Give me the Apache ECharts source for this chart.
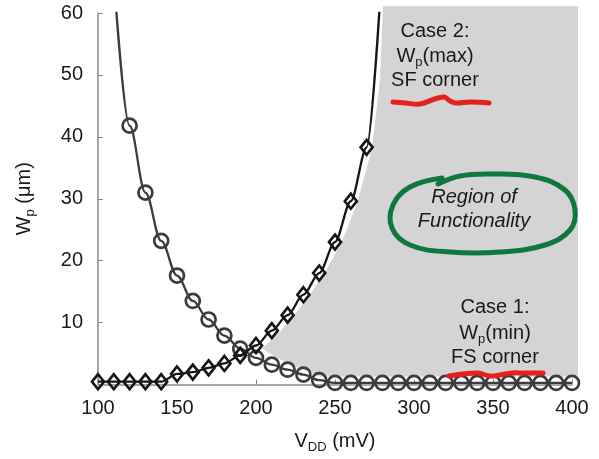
<!DOCTYPE html>
<html>
<head>
<meta charset="utf-8">
<script src="https://cdn.jsdelivr.net/npm/echarts@6/dist/echarts.min.js"></script>
<style>
  html, body { margin: 0; padding: 0; background: #fff; }
  #chart { width: 599px; height: 459px; }
</style>
</head>
<body>
<div id="chart"></div>
<script>
// Supply voltage sweep (mV)
const vdd = [100, 110, 120, 130, 140, 150, 160, 170, 180, 190, 200, 210, 220, 230, 240, 250,
             260, 270, 280, 290, 300, 310, 320, 330, 340, 350, 360, 370, 380, 390, 400];

// Case 1: minimum PMOS width at the FS corner (um); the 110 mV value only continues the curve
const wpMinFS = [null, 66, 41.8, 31.0, 23.2, 17.6, 13.5, 10.5, 7.9, 5.8, 4.3, 3.2, 2.4, 1.6, 0.7, 0.25,
                 0.25, 0.25, 0.25, 0.25, 0.25, 0.25, 0.25, 0.25, 0.25, 0.25, 0.25, 0.25, 0.25, 0.25, 0.25];
// Case 2: maximum PMOS width at the SF corner (um); the 280 mV value only continues the curve
const wpMaxSF = [0.45, 0.45, 0.45, 0.45, 0.45, 1.7, 2.0, 2.7, 3.4, 4.7, 6.3, 8.7, 11.2, 14.5, 18.0, 23.0,
                 29.6, 38.3, 68];
const curveOnly = { wpMinFS: [110], wpMaxSF: [280] };

// Outline of the functional region [VDD, Wp]
const functionalRegion = [
  [203.8, 5.8], [215.2, 8.5], [225.9, 11.8], [235.4, 15.0], [244.9, 18.7], [254.4, 23.1],
  [263.9, 29.2], [273.4, 38.1], [278.5, 49.4], [280.4, 61.1], [403.8, 61.1], [403.8, 1.3],
  [240.5, 1.3], [231.0, 2.3], [221.5, 3.3], [212.0, 4.5]
];

const xTicks = { min: 100, max: 400, interval: 50 };
const yTicks = { min: 0, max: 60, interval: 10 };

const FONT = '"Liberation Sans", Arial, sans-serif';

function toPoints(values, hidden) {
  return values.map((v, i) => {
    if (v === null) return null;
    const item = { value: [vdd[i], v] };
    if (hidden.indexOf(vdd[i]) >= 0) item.symbol = 'none';
    return item;
  }).filter(d => d !== null);
}

const chart = echarts.init(document.getElementById('chart'), null, { renderer: 'canvas' });

const subRich = {
  a: { fontSize: 20, fontFamily: FONT, color: '#1a1a1a', lineHeight: 24 },
  s: { fontSize: 13, fontFamily: FONT, color: '#1a1a1a', lineHeight: 24, padding: [12, 0, 0, 0] }
};

function annot(text, x, y, extra) {
  return {
    type: 'text', x: x, y: y, z: 20,
    style: Object.assign({
      text: text, font: '20px ' + FONT, fill: '#1a1a1a',
      align: 'center', verticalAlign: 'middle'
    }, extra || {})
  };
}

function stroke(points, color, smooth) {
  return {
    type: 'polyline', z: 19, silent: true,
    shape: { points: points, smooth: smooth },
    style: { fill: null, stroke: color, lineWidth: 5, lineCap: 'round', lineJoin: 'round' }
  };
}

chart.setOption({
  animation: false,
  backgroundColor: '#fff',
  grid: { left: 98, right: 27, top: 13, bottom: 73, containLabel: false },
  xAxis: {
    type: 'value', min: xTicks.min, max: xTicks.max, interval: xTicks.interval,
    axisLine: { show: true, lineStyle: { color: '#8a8a8a', width: 1.5 } },
    axisTick: { show: true, inside: true, length: 5, lineStyle: { color: '#8a8a8a' } },
    splitLine: { show: false },
    axisLabel: { color: '#1a1a1a', fontSize: 20, fontFamily: FONT, margin: 14 },
    name: '{a|V}{s|DD}{a| (mV)}',
    nameLocation: 'middle', nameGap: 45,
    nameTextStyle: { rich: subRich }
  },
  yAxis: {
    type: 'value', min: yTicks.min, max: yTicks.max, interval: yTicks.interval,
    axisLine: { show: true, lineStyle: { color: '#8a8a8a', width: 1.5 } },
    axisTick: { show: true, inside: true, length: 5, lineStyle: { color: '#8a8a8a' } },
    splitLine: { show: false },
    axisLabel: {
      color: '#1a1a1a', fontSize: 20, fontFamily: FONT, margin: 15,
      formatter: v => (v === 0 ? '' : String(v))
    },
    name: '{a|W}{s|p}{a| (μm)}',
    nameLocation: 'middle', nameGap: 62, nameRotate: 90,
    nameTextStyle: { rich: subRich }
  },
  series: [
    {
      type: 'custom', name: 'Region of Functionality', z: 1, silent: true,
      data: [0],
      renderItem: function (params, api) {
        return {
          type: 'polygon',
          shape: { points: functionalRegion.map(p => api.coord(p)) },
          style: { fill: '#d4d4d4', stroke: null }
        };
      }
    },
    {
      type: 'line', name: 'Case 1: Wp(min) FS corner', z: 3,
      data: toPoints(wpMinFS, curveOnly.wpMinFS),
      smooth: 0.35, smoothMonotone: 'x',
      symbol: 'circle', symbolSize: 14, showAllSymbol: true,
      lineStyle: { color: '#3c3c3c', width: 2.3 },
      itemStyle: { color: 'rgba(0,0,0,0)', borderColor: '#3c3c3c', borderWidth: 2.7 }
    },
    {
      type: 'line', name: 'Case 2: Wp(max) SF corner', z: 4,
      data: toPoints(wpMaxSF, curveOnly.wpMaxSF),
      smooth: 0.3, smoothMonotone: 'x',
      symbol: 'diamond', symbolSize: [12, 15], showAllSymbol: true,
      lineStyle: { color: '#161616', width: 2.3 },
      itemStyle: { color: 'rgba(0,0,0,0)', borderColor: '#161616', borderWidth: 2.7 }
    }
  ],
  graphic: [
    annot('Case 2:', 435, 31),
    annot('{a|W}{s|p}{a|(max)}', 435, 56, { rich: subRich }),
    annot('SF corner', 435, 80),
    annot('Case 1:', 495, 307),
    annot('{a|W}{s|p}{a|(min)}', 495, 333, { rich: subRich }),
    annot('FS corner', 495, 357),
    annot('Region of', 474, 197, { font: 'italic 20px ' + FONT }),
    annot('Functionality', 474, 221, { font: 'italic 20px ' + FONT }),
    // hand-drawn loop around the region label
    stroke([[442, 178], [410, 187], [393, 205], [392, 228], [410, 245], [450, 252], [500, 252],
            [545, 245], [570, 230], [575, 210], [565, 190], [535, 177], [490, 174], [460, 176], [438, 184]],
           '#10773f', 0.4),
    // red underlines
    stroke([[393, 102], [405, 103], [420, 104], [432, 100], [444, 97], [450, 101], [456, 103],
            [470, 102], [489, 103]], '#e4211c', 0.4),
    stroke([[449, 376], [463, 374], [478, 373], [490, 376], [500, 375], [512, 373], [524, 373],
            [543, 373]], '#e4211c', 0.4)
  ]
});
</script>
</body>
</html>
